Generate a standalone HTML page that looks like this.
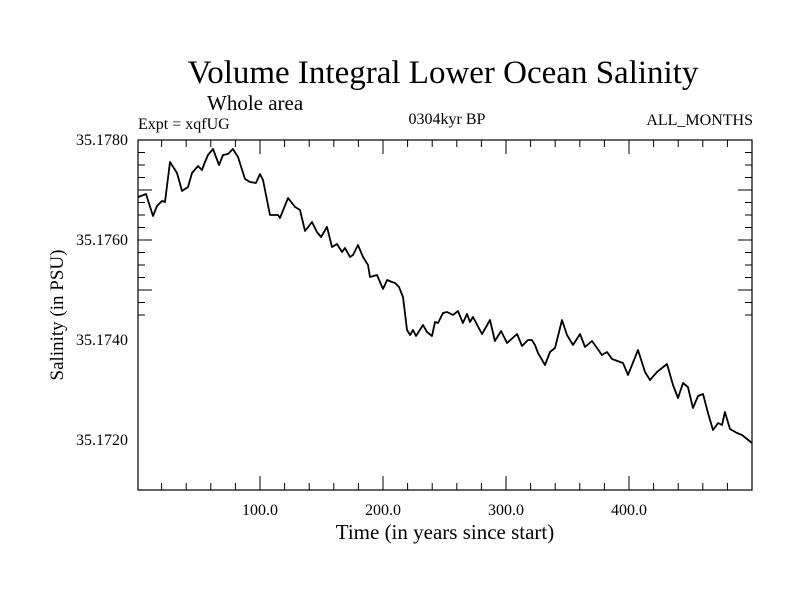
<!DOCTYPE html>
<html><head><meta charset="utf-8"><style>
body{margin:0;background:#fff}
svg{display:block;font-family:"Liberation Serif",serif}
</style></head><body>
<svg id="chart" width="800" height="600">
<rect width="800" height="600" fill="#fff"/>
<text x="443" y="83" font-size="33" text-anchor="middle">Volume Integral Lower Ocean Salinity</text>
<text x="207" y="110" font-size="21">Whole area</text>
<text x="138" y="129" font-size="16">Expt = xqfUG</text>
<text x="447" y="124" font-size="16" text-anchor="middle">0304kyr BP</text>
<text x="753" y="125" font-size="16" text-anchor="end">ALL_MONTHS</text>
<text x="445" y="539" font-size="21" text-anchor="middle">Time (in years since start)</text>
<text transform="translate(63,315) rotate(-90)" font-size="19" text-anchor="middle">Salinity (in PSU)</text>
<g id="axes"></g>
<path id="series" fill="none" stroke="#000" stroke-width="1.8" stroke-linejoin="round"/>
<rect x="138" y="140" width="614" height="350" fill="none" stroke="#000" stroke-width="1.2"/>
</svg>
<script>
const years=[1,7.3,13,16.3,20.3,22.8,26.8,32.5,36.6,41.5,44.7,49.6,52.8,55.3,57.7,61.8,66.7,69.9,74,78,82.1,87.8,91.9,96.7,100,102.4,108.1,114.6,116.3,122.8,128.5,132.5,136.6,142.3,146.3,149.6,154.5,158.5,162.6,166.7,169.1,173.2,175.6,179.7,183.7,187.8,189.4,195.1,200,203.3,207.3,209.8,213,216.3,219.5,222,224.4,226.8,232.5,235.8,239.8,242.3,244.7,248.8,252,256.9,261,265,268.3,270.7,273.2,280.5,287,291,296,300.8,309,313,317.9,321,323.6,326,331.7,335.8,339.8,345.5,349.6,354.5,360.2,364.2,369.9,374,378,382.1,386.2,395.1,399.2,407.3,413,417.1,422.8,430.9,435.8,439.8,443.9,447.9,452,456.1,460.2,464.2,468.3,472.4,475.6,478,482.1,487.8,491.9,500];
const salinity=[35.17686,35.17692,35.17648,35.17668,35.17678,35.17676,35.17756,35.17734,35.17698,35.17706,35.17734,35.17748,35.17740,35.17756,35.17770,35.17782,35.17750,35.17770,35.17772,35.17782,35.17766,35.17722,35.17716,35.17714,35.17732,35.17720,35.17650,35.17650,35.17644,35.17684,35.17666,35.17660,35.17618,35.17636,35.17616,35.17606,35.17626,35.17586,35.17592,35.17576,35.17584,35.17566,35.17570,35.17590,35.17566,35.17550,35.17526,35.17530,35.17502,35.17520,35.17516,35.17514,35.17506,35.17486,35.17420,35.17410,35.17420,35.17408,35.17430,35.17416,35.17408,35.17436,35.17434,35.17454,35.17456,35.17450,35.17458,35.17434,35.17452,35.17436,35.17446,35.17412,35.17440,35.17398,35.17418,35.17394,35.17412,35.17388,35.17400,35.17400,35.17390,35.17374,35.17350,35.17376,35.17384,35.17440,35.17410,35.17390,35.17412,35.17386,35.17398,35.17384,35.17370,35.17376,35.17362,35.17354,35.17330,35.17380,35.17336,35.17320,35.17336,35.17352,35.17310,35.17284,35.17314,35.17306,35.17264,35.17288,35.17292,35.17254,35.17220,35.17234,35.17230,35.17256,35.17222,35.17214,35.17210,35.17194];
const xTickLabels=["100.0","200.0","300.0","400.0"];
const yTickLabels=["35.1720","35.1740","35.1760","35.1780"];
const X0=137,XS=1.23,YTOP=140,VTOP=35.1780,YS=50000;
const sx=t=>X0+t*XS, sy=v=>YTOP+(VTOP-v)*YS;
const NS='http://www.w3.org/2000/svg';
const axes=document.getElementById('axes');
function ln(x1,y1,x2,y2){const l=document.createElementNS(NS,'line');l.setAttribute('x1',x1);l.setAttribute('y1',y1);l.setAttribute('x2',x2);l.setAttribute('y2',y2);l.setAttribute('stroke','#000');l.setAttribute('stroke-width','1');


axes.appendChild(l);}
function tx(x,y,s,anchor,name){const t=document.createElementNS(NS,'text');t.setAttribute('x',x);t.setAttribute('y',y);t.setAttribute('font-size','16');t.setAttribute('text-anchor',anchor);t.textContent=s;


axes.appendChild(t);}
for(let yr=20;yr<500;yr+=20){const x=sx(yr);const maj=yr%100===0;const L=maj?14:7;ln(x,490,x,490-L);ln(x,140,x,140+L);}
xTickLabels.forEach(s=>{tx(sx(parseFloat(s)),515,s,'middle','x-tick-label');});
for(let i=1;i<=14;i++){const v=VTOP-i*0.00025;const y=sy(v);if(y>=490)break;const maj=i%4===0;const L=maj?14:7;ln(138,y,138+L,y);ln(752,y,752-L,y);}
yTickLabels.forEach(s=>{tx(128,sy(parseFloat(s))+5,s,'end','y-tick-label');});
let d='';years.forEach((t,i)=>{d+=(i?'L':'M')+sx(t).toFixed(1)+' '+sy(salinity[i]).toFixed(1);});
document.getElementById('series').setAttribute('d',d);
</script>
</body></html>
